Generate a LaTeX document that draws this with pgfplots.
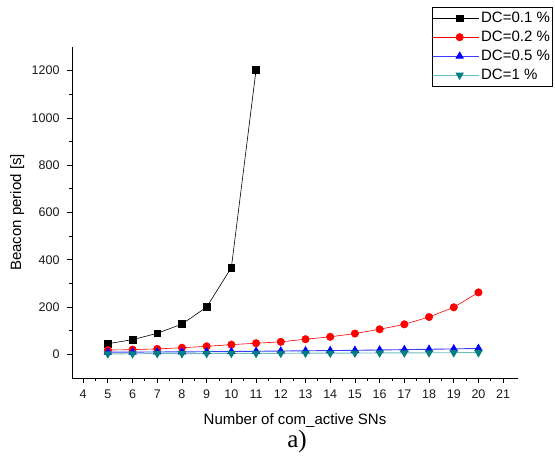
\documentclass[border=0pt]{standalone}
\usepackage{pgfplots}
\pgfplotsset{compat=1.18}
\usepackage{fontspec}
\setmainfont{Liberation Sans}
\newfontfamily\serif{Liberation Serif}
\definecolor{tealm}{RGB}{0,128,128}
\definecolor{teall}{RGB}{110,190,185}
\definecolor{bluel}{RGB}{60,60,255}
\begin{document}
\begin{tikzpicture}
\begin{axis}[
  scale only axis,
  width=446pt, height=331pt,
  xmin=3.55, xmax=21.6, ymin=-100, ymax=1300,
  axis x line*=bottom, axis y line*=left,
  axis line style={-, line width=0.8pt},
  xtick={4,5,...,21}, minor x tick num=1,
  ytick={0,200,...,1200}, minor y tick num=1,
  tick align=outside,
  major tick length=5pt, minor tick length=3pt,
  tick style={line width=0.8pt, black},
  /pgf/number format/assume math mode=true,
  /pgf/number format/1000 sep={},
  tick label style={font=\fontsize{12.5}{14}\selectfont, color=black!90},
  xticklabel style={yshift=-3pt},
  yticklabel style={xshift=-4pt},
  xlabel={Number of com\_active SNs},
  ylabel={Beacon period [s]},
  label style={font=\fontsize{15}{17}\selectfont},
  xlabel style={at={(axis description cs:0.5,-0.139)}, anchor=base},
  ylabel style={at={(axis description cs:-0.123,0.5)}, anchor=center},
  legend style={at={(0.807,1.121)}, anchor=north west, draw=black, line width=0.6pt,
    font=\fontsize{15}{17}\selectfont, row sep=3pt, inner xsep=0pt, inner ysep=3pt},
  legend cell align=left,
  legend image code/.code={\path (0pt,0pt) -- (46pt,0pt); \draw[mark repeat=2,mark phase=2,#1] plot coordinates {(10pt,0pt) (27pt,0pt) (44pt,0pt)};},
  clip=false,
]
\addplot[black, line width=0.6pt, mark=square*, mark size=3.3pt, mark options={solid,fill=black}]
  coordinates {(5,45) (6,62) (7,89) (8,128) (9,200) (10,367) (11,1204)};
\addlegendentry{DC=0.1 \%}
\addplot[red, line width=0.6pt, mark=*, mark size=3.7pt, mark options={solid,fill=red}]
  coordinates {(5,18) (6,20) (7,23) (8,28) (9,34) (10,41) (11,47) (12,53) (13,64) (14,74) (15,88) (16,106) (17,127) (18,158) (19,199) (20,262)};
\addlegendentry{DC=0.2 \%}
\addplot[bluel, line width=0.9pt, mark=triangle*, mark size=4pt, mark options={solid,fill=blue,draw=blue}]
  coordinates {(5,9) (6,9.5) (7,10) (8,10.5) (9,11) (10,12) (11,13) (12,14) (13,15) (14,16) (15,17) (16,18.5) (17,20) (18,21.5) (19,23) (20,25)};
\addlegendentry{DC=0.5 \%}
\addplot[teall, line width=0.9pt, mark=triangle*, mark size=4pt, mark options={solid,fill=tealm,draw=tealm,rotate=180}]
  coordinates {(5,2) (6,2.5) (7,3) (8,3) (9,3.5) (10,4) (11,4) (12,4.5) (13,5) (14,5) (15,5.5) (16,6) (17,6) (18,6.5) (19,7) (20,7)};
\addlegendentry{DC=1 \%}
\end{axis}
\node[font=\serif\fontsize{25}{27}\selectfont, anchor=center] at ([xshift=225pt,yshift=-63pt]current axis.south west) {a)};
\path ([xshift=-72pt,yshift=-75pt]current axis.south west) rectangle ++(555pt,453pt);
\end{tikzpicture}
\end{document}
